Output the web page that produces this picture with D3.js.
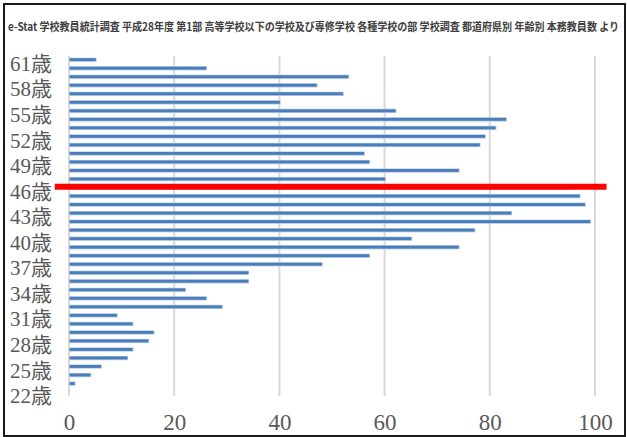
<!DOCTYPE html>
<html>
<head>
<meta charset="utf-8">
<script src="https://cdn.jsdelivr.net/npm/d3@7/dist/d3.min.js"></script>
<style>
  body { margin: 0; background: #fff; }
  svg { display: block; }
</style>
</head>
<body>
<svg id="chart" width="627" height="437"></svg>
<script>
// 年齢別 本務教員数
const ages = [22, 23, 24, 25, 26, 27, 28, 29, 30, 31,
              32, 33, 34, 35, 36, 37, 38, 39, 40, 41,
              42, 43, 44, 45, 46, 47, 48, 49, 50, 51,
              52, 53, 54, 55, 56, 57, 58, 59, 60, 61];
const teachers = [0, 1, 4, 6, 11, 12, 15, 16, 12, 9,
                  29, 26, 22, 34, 34, 48, 57, 74, 65, 77,
                  99, 84, 98, 97, 95, 60, 74, 57, 56, 78,
                  79, 81, 83, 62, 40, 52, 47, 53, 26, 5];
const ageTicks = [22, 25, 28, 31, 34, 37, 40, 43, 46, 49, 52, 55, 58, 61];
const countTicks = [0, 20, 40, 60, 80, 100];
const highlightAge = 46;
const highlightSpan = [-2.7, 102.2];
const title = "e-Stat 学校教員統計調査 平成28年度 第1部 高等学校以下の学校及び専修学校 各種学校の部 学校調査 都道府県別 年齢別 本務教員数 より";

const svg = d3.select("#chart");
const W = 627, H = 437;
const plot = { left: 69, right: 595, top: 55.4, bottom: 396.3 };

// outer frame
svg.append("rect")
  .attr("x", 4).attr("y", 4)
  .attr("width", W - 6).attr("height", H - 5)
  .attr("fill", "#fff")
  .attr("stroke", "#1a1a1a").attr("stroke-width", 2);

// title: tall, condensed lettering squeezed into the frame width
const titleG = svg.append("g");
const titleText = titleG.append("text")
  .attr("x", 0).attr("y", 0)
  .attr("font-family", "'Noto Sans CJK JP', sans-serif")
  .attr("font-size", 11)
  .attr("font-weight", 700)
  .attr("fill", "#404040")
  .text(title);
const natural = titleText.node().getComputedTextLength();
const titleWidth = 612;
titleG.attr("transform", `translate(8,30.5) scale(${titleWidth / natural},1)`);

const x = d3.scaleLinear().domain([0, 100]).range([plot.left, plot.right]);
const y = d3.scaleBand()
  .domain(ages.slice().reverse())
  .range([plot.top, plot.bottom])
  .padding(0);

// vertical gridlines
svg.append("g")
  .selectAll("line")
  .data(countTicks)
  .join("line")
  .attr("x1", d => x(d)).attr("x2", d => x(d))
  .attr("y1", 56).attr("y2", plot.bottom)
  .attr("stroke", "#d9d9d9")
  .attr("stroke-width", 2);

// bars
const barH = y.bandwidth() * 0.34;
const rows = ages.map((a, i) => ({ age: a, value: teachers[i] }));
const bars = svg.append("g");
bars.selectAll("rect.halo")
  .data(rows.filter(d => d.value > 0))
  .join("rect")
  .attr("class", "halo")
  .attr("x", x(0) + 0.5)
  .attr("y", d => y(d.age) + y.bandwidth() / 2 - barH / 2 - 0.6)
  .attr("width", d => x(d.value) - x(0) + 0.8)
  .attr("height", barH + 1.4)
  .attr("fill", "#b9cde6");
bars.selectAll("rect.bar")
  .data(rows.filter(d => d.value > 0))
  .join("rect")
  .attr("class", "bar")
  .attr("x", x(0) + 0.5)
  .attr("y", d => y(d.age) + y.bandwidth() / 2 - barH / 2)
  .attr("width", d => x(d.value) - x(0))
  .attr("height", barH)
  .attr("fill", "#4a7ebb");

// highlight line for one age
svg.append("line")
  .attr("x1", x(highlightSpan[0])).attr("x2", x(highlightSpan[1]))
  .attr("y1", y(highlightAge) + y.bandwidth() / 2 - 0.8)
  .attr("y2", y(highlightAge) + y.bandwidth() / 2 - 0.8)
  .attr("stroke", "#ff0000")
  .attr("stroke-width", 6);

// y axis (ages)
const yAxis = svg.append("g")
  .attr("transform", `translate(52,0)`)
  .call(d3.axisLeft(y).tickValues(ageTicks).tickSize(0).tickPadding(0)
    .tickFormat(d => d + "歳"));
yAxis.select(".domain").remove();
yAxis.selectAll("text")
  .attr("dy", "0.53em")
  .attr("font-family", "'Liberation Serif', 'Noto Sans CJK JP', serif")
  .attr("font-size", 21)
  .attr("fill", "#595959");

// x axis (counts)
const xAxis = svg.append("g")
  .attr("transform", `translate(0,${plot.bottom})`)
  .call(d3.axisBottom(x).tickValues(countTicks).tickSize(0).tickPadding(17.5));
xAxis.select(".domain").remove();
xAxis.selectAll("text")
  .attr("font-family", "'Liberation Serif', serif")
  .attr("font-size", 23)
  .attr("fill", "#595959");
</script>
</body>
</html>
